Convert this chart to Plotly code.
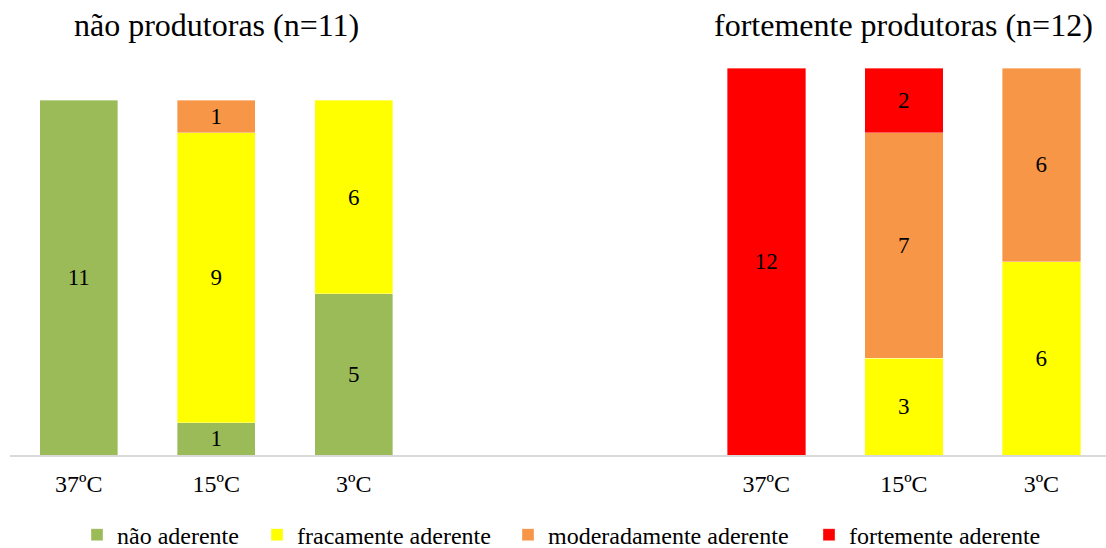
import plotly.graph_objects as go

# Temperature categories and the two strain groups
temperaturas = ["37ºC", "15ºC", "3ºC"]
grupos = ["não produtoras (n=11)", "fortemente produtoras (n=12)"]

# Number of strains in each adherence class, per group and temperature
nao_aderente = [[11, 1, 5], [0, 0, 0]]
fracamente_aderente = [[0, 9, 6], [0, 3, 6]]
moderadamente_aderente = [[0, 1, 0], [0, 7, 6]]
fortemente_aderente = [[0, 0, 0], [12, 2, 0]]

series = [
    ("não aderente", nao_aderente, "#9BBB59"),
    ("fracamente aderente", fracamente_aderente, "#FFFF00"),
    ("moderadamente aderente", moderadamente_aderente, "#F79646"),
    ("fortemente aderente", fortemente_aderente, "#FF0000"),
]

FONT = "Liberation Serif, Times New Roman, serif"
GROUP_STEP = 5  # slots between the first bar of each group

# x slot for every bar: group offset + temperature index
xpos = [g * GROUP_STEP + i for g in range(len(grupos)) for i in range(len(temperaturas))]

fig = go.Figure()

legend_x_px = [77, 257, 508, 809]
legend_names = ["legend", "legend2", "legend3", "legend4"]

for k, (nome, valores, cor) in enumerate(series):
    flat = [v for grupo in valores for v in grupo]
    fig.add_trace(go.Bar(
        x=xpos,
        y=[v if v else None for v in flat],
        text=[str(v) if v else "" for v in flat],
        name=nome,
        legend=legend_names[k],
        showlegend=True,
        width=0.57,
        marker=dict(color=cor, line=dict(color="rgba(255,255,255,0.6)", width=0.6)),
        textposition="inside",
        insidetextanchor="middle",
        textangle=0,
        textfont=dict(family=FONT, size=23, color="black"),
        hoverinfo="skip",
    ))

fig.update_layout(
    width=1106,
    height=548,
    margin=dict(l=10, r=0, t=36, b=93, autoexpand=False),
    showlegend=True,
    barmode="stack",
    plot_bgcolor="white",
    paper_bgcolor="white",
    font=dict(family=FONT, size=24, color="black"),
    uniformtext=dict(minsize=23, mode="show"),
    xaxis=dict(
        range=[-0.5, 7.47],
        tickmode="array",
        tickvals=xpos,
        ticktext=temperaturas * len(grupos),
        showgrid=False,
        zeroline=False,
        showline=True,
        linecolor="#D9D9D9",
        linewidth=2,
        ticks="",
        ticklabelstandoff=6,
        tickfont=dict(family=FONT, size=24, color="black"),
    ),
    yaxis=dict(
        range=[0, 13],
        showticklabels=False,
        showgrid=False,
        zeroline=False,
        showline=False,
    ),
)

# One single-entry legend per adherence class, laid out along the bottom
for k, ln in enumerate(legend_names):
    fig.update_layout({ln: dict(
        x=(legend_x_px[k] - 10) / 1096,
        xanchor="left",
        y=-0.191,
        yanchor="middle",
        orientation="h",
        bgcolor="rgba(0,0,0,0)",
        font=dict(family=FONT, size=24, color="black"),
        traceorder="normal",
    )})

# Group titles above each set of bars
for g, titulo in enumerate(grupos):
    fig.add_annotation(
        x=g * GROUP_STEP + 1,
        xref="x",
        y=1.026,
        yref="paper",
        yanchor="middle",
        text=titulo,
        showarrow=False,
        font=dict(family=FONT, size=32, color="black"),
    )

fig.write_html("out.html")
